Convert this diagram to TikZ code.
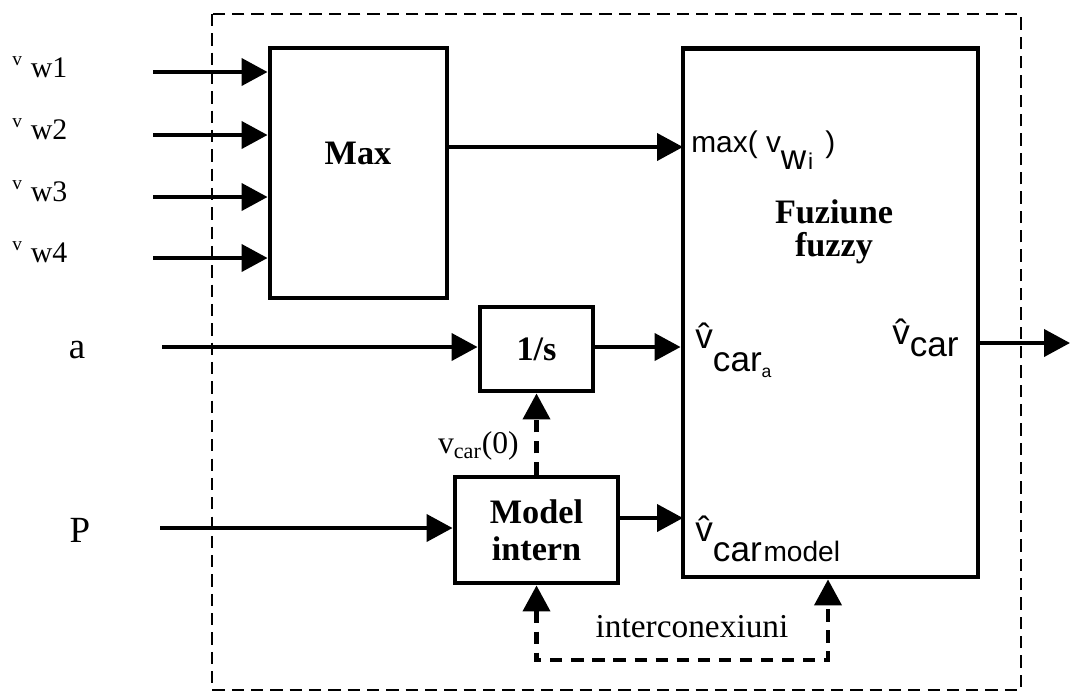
\documentclass[tikz,border=0pt]{standalone}
\usepackage{fontspec}
\setmainfont{Liberation Serif}
\setsansfont{Liberation Sans}
\usetikzlibrary{arrows.meta,positioning}

\begin{document}
\begin{tikzpicture}[
  x=0.02cm,y=-0.02cm,
  blok/.style={rectangle,draw,line width=2.8pt,inner sep=0pt,align=center,font=\fontsize{19.5}{21}\selectfont\bfseries},
  lbl/.style={inner sep=0pt,font=\fontsize{19.5}{22}\selectfont},
  sig/.style={inner sep=0pt,font=\fontsize{20}{22}\selectfont\sffamily},
  arrow/.style={-{Triangle[length=5.2mm,width=5.4mm]},line width=2.3pt},
  dasharrow/.style={-{Triangle[length=5.2mm,width=5.4mm]},line width=2.3pt,dash pattern=on 7pt off 5pt},
  dashloop/.style={{Triangle[length=5.2mm,width=5.4mm]}-{Triangle[length=5.2mm,width=5.4mm]},line width=2.3pt,dash pattern=on 7pt off 5pt},
  frame/.style={line width=1.1pt,dash pattern=on 7pt off 4pt}
]
\useasboundingbox (0,0) rectangle (1071,694);

% Cadrul estimatorului
\draw[frame] (212,14) rectangle (1021,690);

% Blocuri
\node[blok,minimum width=3.54cm,minimum height=5cm] (max) at (358.5,173) {};
\node[lbl,font=\fontsize{19.5}{22}\selectfont\bfseries] (maxtxt) at (358,153) {Max};
\node[blok,minimum width=5.9cm,minimum height=10.58cm] (fuzzy) at (830.5,312.5) {};
\node[lbl,align=center,font=\fontsize{19.5}{19}\selectfont\bfseries] (fuztxt) at (834,232) {Fuziune\\fuzzy};
\node[blok,minimum width=2.26cm,minimum height=1.68cm] (integ) at (536.5,349) {1/s};
\node[blok,minimum width=3.26cm,minimum height=2.12cm] (model) at (536.5,530) {Model\\intern};

% Intrari
\node[lbl,anchor=west] (lw1) at (12,67) {\raisebox{7pt}{\fontsize{11}{12}\selectfont v}\hspace{5pt}{\fontsize{17}{18}\selectfont w1}};
\node[lbl,anchor=west] (lw2) at (12,129) {\raisebox{7pt}{\fontsize{11}{12}\selectfont v}\hspace{5pt}{\fontsize{17}{18}\selectfont w2}};
\node[lbl,anchor=west] (lw3) at (12,191) {\raisebox{7pt}{\fontsize{11}{12}\selectfont v}\hspace{5pt}{\fontsize{17}{18}\selectfont w3}};
\node[lbl,anchor=west] (lw4) at (12,252) {\raisebox{7pt}{\fontsize{11}{12}\selectfont v}\hspace{5pt}{\fontsize{17}{18}\selectfont w4}};
\node[lbl,font=\fontsize{21}{22}\selectfont] (la) at (77,350) {a};
\node[lbl,font=\fontsize{21}{22}\selectfont] (lp) at (80,530) {P};
\coordinate (w1) at (153,72);
\coordinate (w2) at (153,135);
\coordinate (w3) at (153,197);
\coordinate (w4) at (153,258);
\coordinate (ain) at (162,347);
\coordinate (pin) at (160,528);

% Porturi fuziune
\coordinate (fzmax) at (683,147);
\coordinate (fzmod) at (683,518);
\coordinate (ic) at (828,660);
\coordinate (vout) at (1070,343);

% Etichete
\node[sig,anchor=west,font=\fontsize{17}{18}\selectfont\sffamily] (lmax) at (691,150) {max( v\raisebox{-10pt}{{\fontsize{20}{20}\selectfont w}\hspace{1pt}{\fontsize{13}{13}\selectfont i}}\hspace{7pt})};
\node[sig,anchor=north west] (lvca) at (695,323) {\^{v}\raisebox{-13pt}{car\raisebox{-3pt}{\fontsize{10}{10}\selectfont a}}};
\node[sig,anchor=north west] (lvcm) at (695,516) {\^{v}\raisebox{-11pt}{car\hspace{1pt}{\fontsize{16}{16}\selectfont model}}};
\node[sig,anchor=east] (lvc) at (959,338) {\^{v}\raisebox{-7pt}{car}};
\node[lbl,anchor=east,font=\fontsize{18}{20}\selectfont] (lv0) at (519,446) {v\textsubscript{car}(0)};
\node[lbl,font=\fontsize{19}{22}\selectfont] (lic) at (692,627) {interconexiuni};

% Conexiuni
\draw[arrow] (w1) -- (w1 -| max.west);
\draw[arrow] (w2) -- (w2 -| max.west);
\draw[arrow] (w3) -- (w3 -| max.west);
\draw[arrow] (w4) -- (w4 -| max.west);
\draw[arrow] (max.east |- fzmax) -- (fzmax);
\draw[arrow] (ain) -- (ain -| integ.west);
\draw[arrow] (integ.east |- ain) -- (ain -| fuzzy.west);
\draw[arrow] (pin) -- (pin -| model.west);
\draw[arrow] (model.east |- fzmod) -- (fzmod);
\draw[arrow] (fuzzy.east |- vout) -- (vout);
\draw[dasharrow] (model.north) -- (integ.south);
\draw[dashloop] (model.south) |- (ic) -- (ic |- fuzzy.south);

\end{tikzpicture}
\end{document}
